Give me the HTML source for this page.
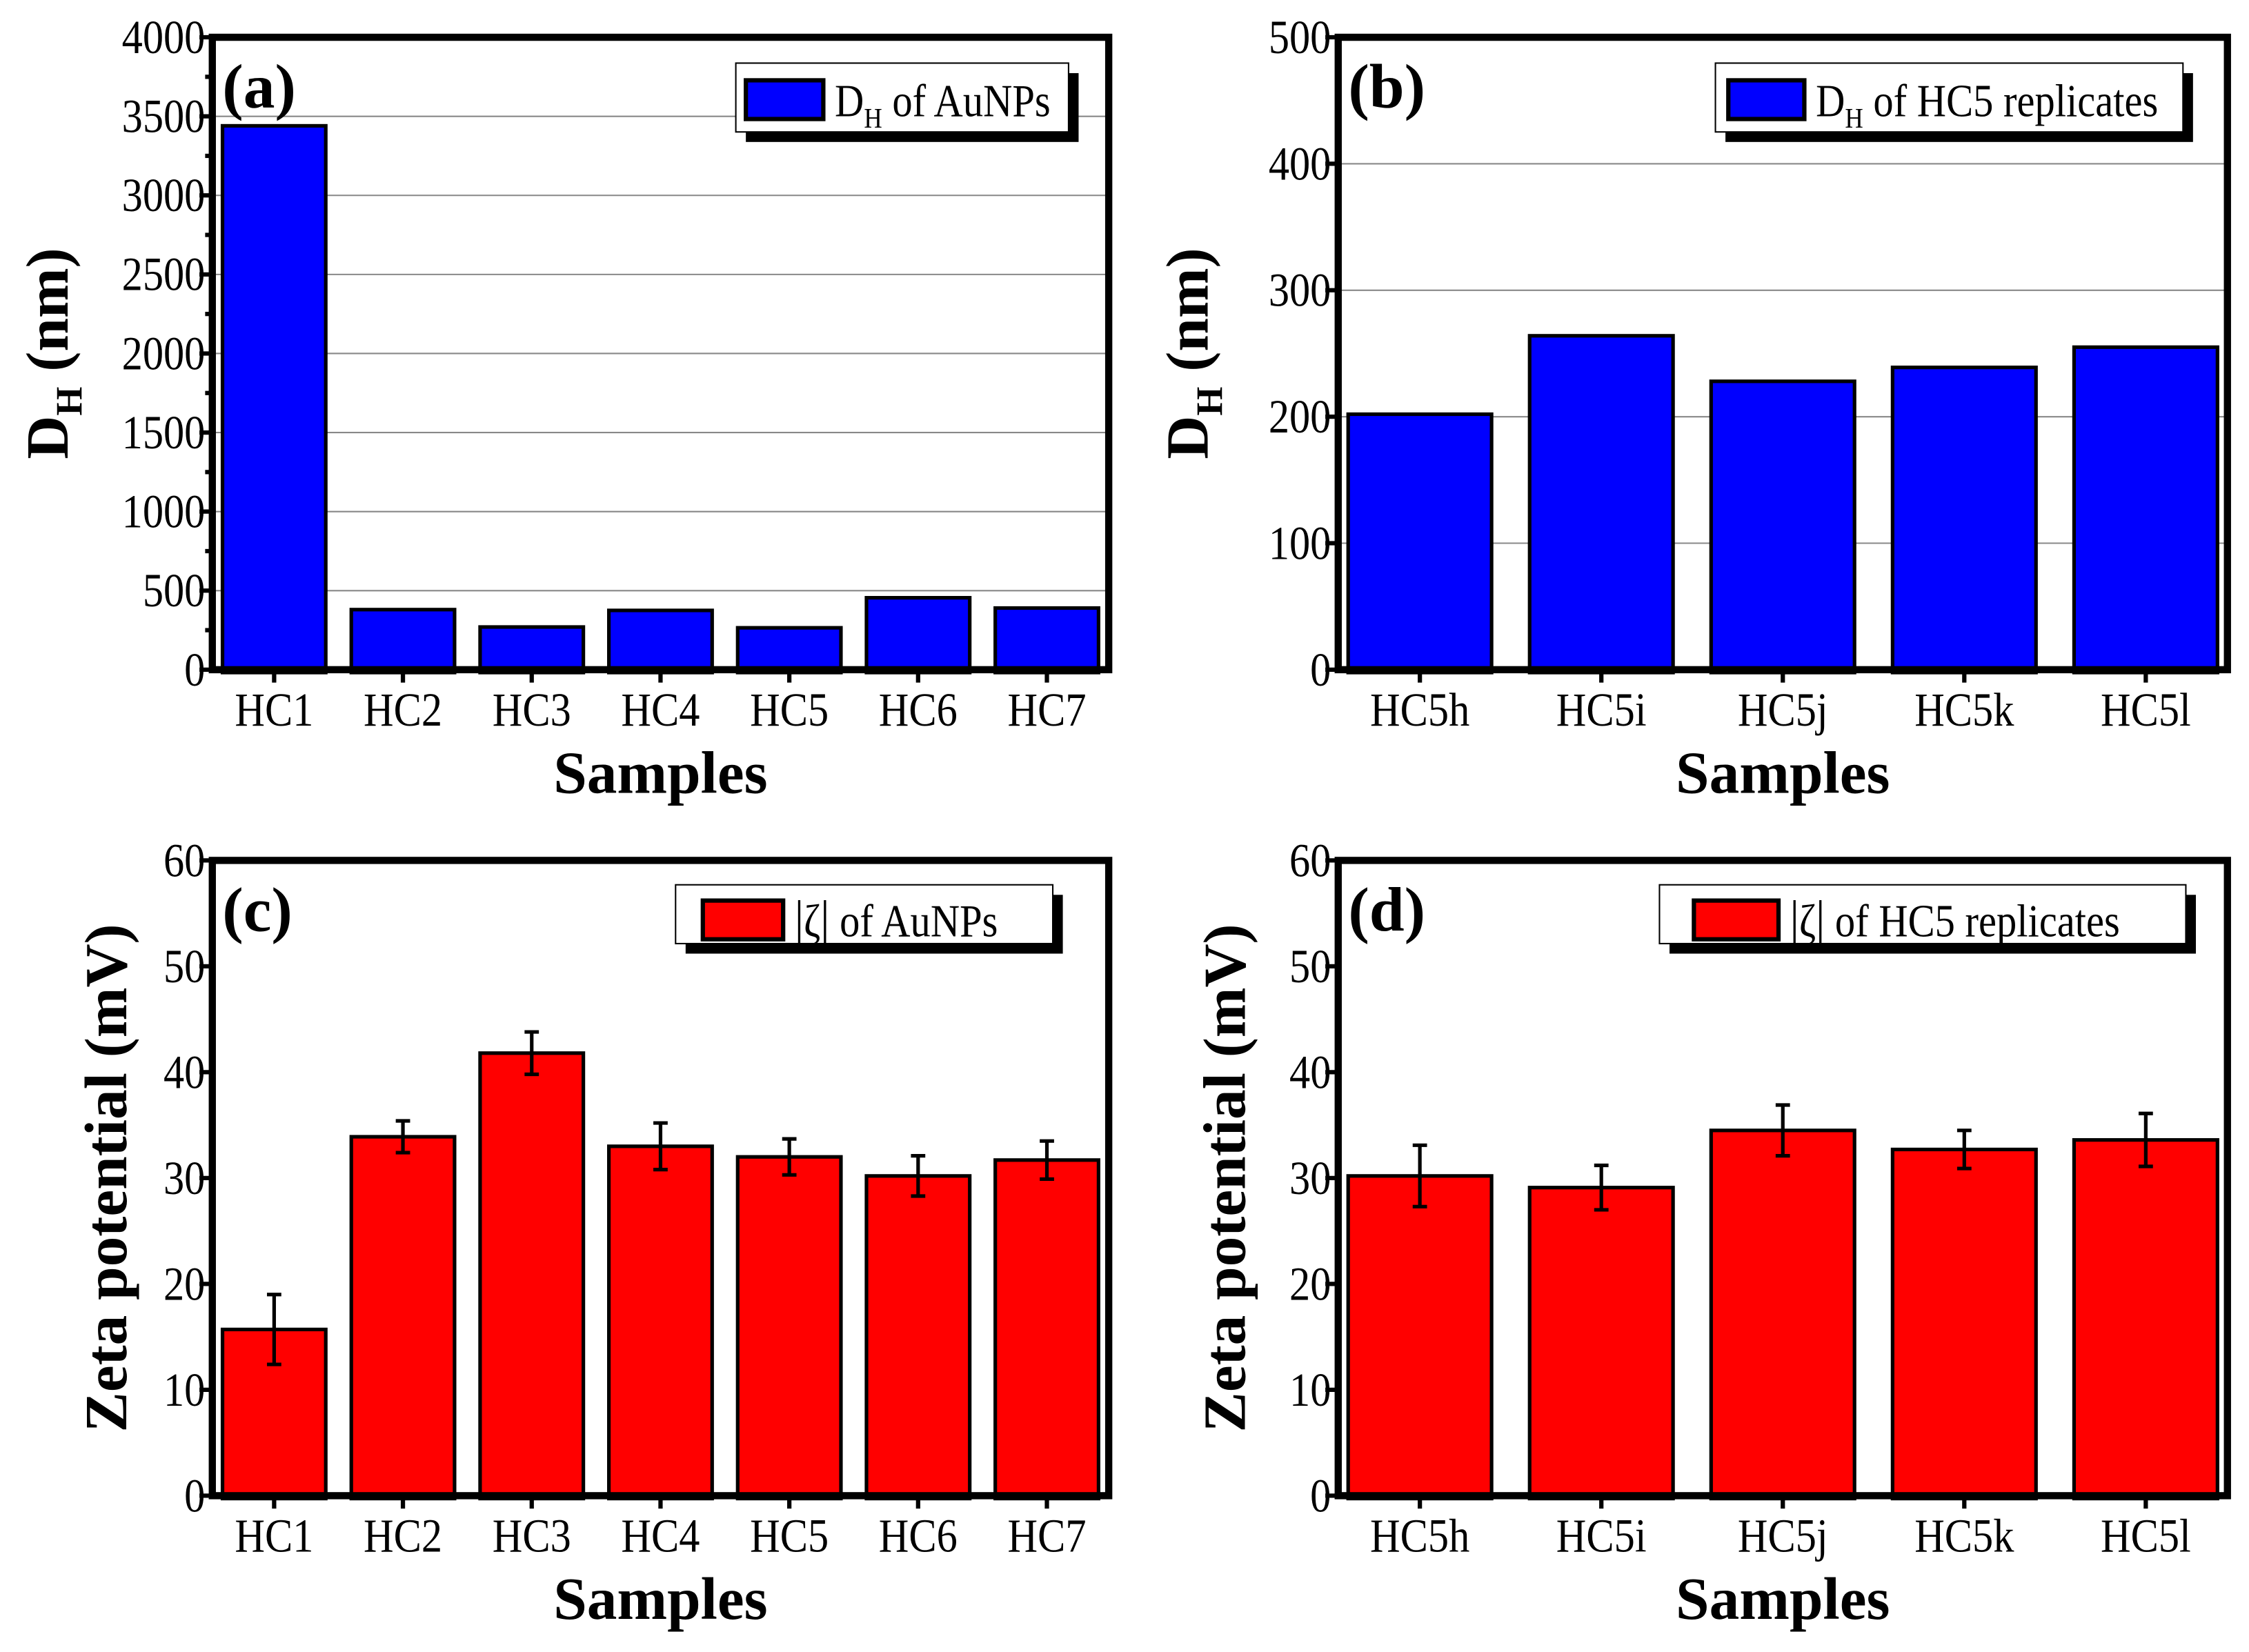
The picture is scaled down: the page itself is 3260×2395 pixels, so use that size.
<!DOCTYPE html>
<html><head><meta charset="utf-8"><style>
html,body{margin:0;padding:0;background:#fff;}
svg{display:block;}
text{font-family:"Liberation Serif",serif;fill:#000;}
</style></head>
<body>
<svg id="fig" width="3260" height="2395" viewBox="0 0 1568 1152" xmlns="http://www.w3.org/2000/svg"></svg>
<script>
const catsA = ["HC1","HC2","HC3","HC4","HC5","HC6","HC7"];
const valsA = [3440,380,270,375,265,455,390];
const catsB = ["HC5h","HC5i","HC5j","HC5k","HC5l"];
const valsB = [202,264,228,239,255];
const valsC = [15.7,33.9,41.8,33.0,32.0,30.2,31.7];
const errC = [3.3,1.5,2.0,2.2,1.7,1.9,1.8];
const valsD = [30.2,29.1,34.5,32.7,33.6];
const errD = [2.9,2.1,2.4,1.8,2.5];
const ticksA = [0,500,1000,1500,2000,2500,3000,3500,4000];
const ticksB = [0,100,200,300,400,500];
const ticksCD = [0,10,20,30,40,50,60];

const NS="http://www.w3.org/2000/svg";
const svg=document.getElementById('fig');
function mk(tag,attrs,parent){const e=document.createElementNS(NS,tag);for(const k in attrs)e.setAttribute(k,attrs[k]);(parent||svg).appendChild(e);return e;}
function ctext(parent,x,y,anchor,size,sx){
  return mk('text',{x:0,y:0,transform:`translate(${x},${y}) scale(${sx},1)`,'text-anchor':anchor,'font-size':size},parent);
}

function panel(o){
  const g=mk('g',{});
  
  
  const L=o.x0,R=o.x1,T=o.y0,B=o.y1;
  const ys=v=>B-(v-o.ymin)/(o.ymax-o.ymin)*(B-T);
  const n=o.cats.length, step=(R-L)/(n-1+2*o.off);
  const xs=i=>L+step*(i+o.off);
  if(o.grid){o.ticks.forEach(t=>{if(t>o.ymin&&t<o.ymax){const l=mk('line',{x1:L,x2:R,y1:ys(t),y2:ys(t),stroke:'#888','stroke-width':1},g);}});}
  o.vals.forEach((v,i)=>{
    const r=mk('rect',{x:xs(i)-o.bw/2,y:ys(v),width:o.bw,height:B-ys(v)+2,fill:o.color,stroke:'#000','stroke-width':2.5},g);
    
    
    if(o.err){
      const e=o.err[i],x=xs(i);
      const eg=mk('g',{stroke:'#000','stroke-width':2.5},g);
      
      
      mk('line',{x1:x,x2:x,y1:ys(v-e),y2:ys(v+e)},eg);
      mk('line',{x1:x-5,x2:x+5,y1:ys(v-e),y2:ys(v-e)},eg);
      mk('line',{x1:x-5,x2:x+5,y1:ys(v+e),y2:ys(v+e)},eg);
    }
  });
  const f=mk('rect',{x:L,y:T,width:R-L,height:B-T,fill:'none',stroke:'#000','stroke-width':5},g);
  
  
  o.ticks.forEach((t,k)=>{
    mk('line',{x1:L-9,x2:L,y1:ys(t),y2:ys(t),stroke:'#000','stroke-width':3},g);
    const tx=ctext(g,L-5,ys(t)+11,'end',33,0.88);
    tx.textContent=t;
    
    
    if(o.minor&&k<o.ticks.length-1){const m=(t+o.ticks[k+1])/2;mk('line',{x1:L-5,x2:L,y1:ys(m),y2:ys(m),stroke:'#000','stroke-width':3},g);}
  });
  o.cats.forEach((c,i)=>{
    mk('line',{x1:xs(i),x2:xs(i),y1:B,y2:B+9,stroke:'#000','stroke-width':3},g);
    const tx=ctext(g,xs(i),B+39,'middle',33,0.88);
    tx.textContent=c;
    
    
  });
  const xt=mk('text',{x:(L+R)/2,y:B+86,'text-anchor':'middle','font-size':42,'font-weight':'bold'},g);
  xt.textContent='Samples';
  
  
  const yt=mk('text',{transform:`translate(${o.ytx},${(T+B)/2}) rotate(-90)`,'text-anchor':'middle','font-size':o.ytSize,'font-weight':'bold'},g);
  yt.innerHTML=o.ytitle;
  
  
  const pl=mk('text',{x:L+7,y:T+49,'font-size':44,'font-weight':'bold'},g);
  pl.textContent=o.label;
  
  
  const lg=mk('g',{},g);
  
  
  const lx=o.leg[0],ly=o.leg[1],lw=o.leg[2],lh=o.leg[3];
  mk('rect',{x:lx+7,y:ly+7,width:lw,height:lh,fill:'#000'},lg);
  mk('rect',{x:lx,y:ly,width:lw,height:lh,fill:'#fff',stroke:'#000','stroke-width':1},lg);
  mk('rect',{x:o.sw[0],y:o.sw[1],width:o.sw[2],height:o.sw[3],fill:o.color,stroke:'#000','stroke-width':3},lg);
  const lt=ctext(lg,o.sw[0]+o.sw[2]+8,o.sw[1]+o.sw[3]-2,'start',32,0.88);
  lt.innerHTML=o.legText;
  
  
}

panel({name:'panel-a',x0:148,x1:773,y0:26,y1:467,ymin:0,ymax:4000,ticks:ticksA,minor:true,grid:true,off:0.48,
  cats:catsA,vals:valsA,bw:72,color:'#0000ff',label:'(a)',ytx:47,ytSize:42,
  ytitle:'D<tspan font-size="26" dy="10">H</tspan><tspan dy="-10"> (nm)</tspan>',
  leg:[513,44,232,48],sw:[520,56,54,27],legText:'D<tspan font-size="20" dy="8">H</tspan><tspan dy="-8"> of AuNPs</tspan>'});
panel({name:'panel-b',x0:933,x1:1553,y0:26,y1:467,ymin:0,ymax:500,ticks:ticksB,minor:false,grid:true,off:0.45,
  cats:catsB,vals:valsB,bw:100,color:'#0000ff',label:'(b)',ytx:842,ytSize:42,
  ytitle:'D<tspan font-size="26" dy="10">H</tspan><tspan dy="-10"> (nm)</tspan>',
  leg:[1196,44,326,48],sw:[1205,56,53,27],legText:'D<tspan font-size="20" dy="8">H</tspan><tspan dy="-8"> of HC5 replicates</tspan>'});
panel({name:'panel-c',x0:148,x1:773,y0:600,y1:1043,ymin:0,ymax:60,ticks:ticksCD,minor:false,grid:false,off:0.48,
  cats:catsA,vals:valsC,err:errC,bw:72,color:'#ff0000',label:'(c)',ytx:88,ytSize:42,
  ytitle:'Zeta potential (mV)',
  leg:[471,617,263,41],sw:[490,628,56,27],legText:'<tspan font-size="36">|</tspan>ζ<tspan font-size="36">|</tspan> of AuNPs'});
panel({name:'panel-d',x0:933,x1:1553,y0:600,y1:1043,ymin:0,ymax:60,ticks:ticksCD,minor:false,grid:false,off:0.45,
  cats:catsB,vals:valsD,err:errD,bw:100,color:'#ff0000',label:'(d)',ytx:868,ytSize:42,
  ytitle:'Zeta potential (mV)',
  leg:[1157,617,367,41],sw:[1181,628,59,27],legText:'<tspan font-size="36">|</tspan>ζ<tspan font-size="36">|</tspan> of  HC5 replicates'});
</script>
</body></html>
